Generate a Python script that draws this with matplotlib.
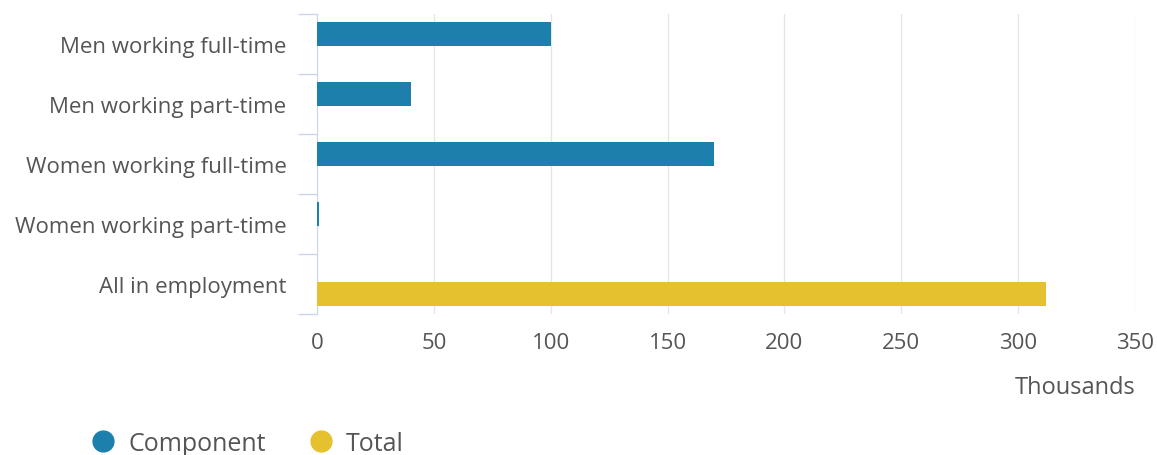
import numpy as np
import matplotlib.pyplot as plt
from matplotlib.lines import Line2D

plt.rcParams['font.family'] = ['Open Sans', 'DejaVu Sans']

categories = ["Men working full-time", "Men working part-time",
              "Women working full-time", "Women working part-time",
              "All in employment"]
component = [100, 40, 170, 1, None]
total = [None, None, None, None, 312]
xticks = [0, 50, 100, 150, 200, 250, 300, 350]

blue = '#1d7fab'
yellow = '#e5c130'
txt = '#555555'

fig = plt.figure(figsize=(11.57, 4.56), dpi=100)
ax = fig.add_axes([0.274, 0.309, 0.707, 0.658])

y = np.arange(len(categories))
for i in range(len(categories)):
    if component[i] is not None:
        ax.barh(y[i] - 0.167, component[i], height=0.4, color=blue, zorder=3)
    if total[i] is not None:
        ax.barh(y[i] + 0.167, total[i], height=0.4, color=yellow, zorder=3)

ax.set_xlim(0, 350)
ax.set_ylim(len(categories) - 0.5, -0.5)
ax.set_xticks(xticks)
ax.set_xticklabels([str(v) for v in xticks])
ax.set_yticks(y)
ax.set_yticklabels(categories)
ax.set_yticks(np.arange(len(categories) + 1) - 0.5, minor=True)

ax.tick_params(axis='y', which='major', length=0, pad=22, labelsize=16, labelcolor=txt)
ax.tick_params(axis='y', which='minor', length=14, width=1, color='#ccd6eb')
ax.tick_params(axis='x', length=0, pad=13, labelsize=16, labelcolor=txt)

ax.grid(axis='x', color='#e6e6e6', linewidth=1, zorder=0)
for s in ['top', 'right', 'bottom']:
    ax.spines[s].set_visible(False)
ax.spines['left'].set_color('#ccd6eb')

fig.text(0.981, 0.149, 'Thousands', ha='right', va='center', fontsize=17, color=txt)

handles = [Line2D([], [], marker='o', linestyle='', markersize=15, color=blue),
           Line2D([], [], marker='o', linestyle='', markersize=15, color=yellow)]
fig.legend(handles, ['Component', 'Total'], loc='center left',
           bbox_to_anchor=(0.059, 0.026), ncol=2, frameon=False,
           fontsize=18, labelcolor=txt, handlelength=1.0, handletextpad=0.5,
           columnspacing=1.7)

fig.savefig('out.png', dpi=100)
